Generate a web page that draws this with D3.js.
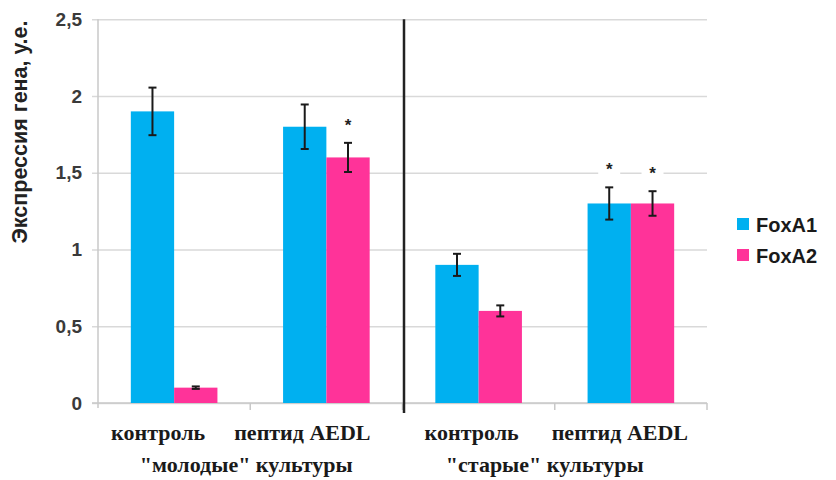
<!DOCTYPE html>
<html>
<head>
<meta charset="utf-8">
<script src="https://cdn.jsdelivr.net/npm/d3@7"></script>
<style>
  html, body { margin: 0; padding: 0; background: #fff; }
  svg { display: block; }
</style>
</head>
<body>
<svg id="chart" width="836" height="480"></svg>
<script>
// Gene expression (arbitrary units) of FoxA1 / FoxA2 in young and old cultures
const categories = ["контроль", "пептид AEDL", "контроль", "пептид AEDL"];
const groupLabels = ['"молодые" культуры', '"старые" культуры'];
const seriesNames = ["FoxA1", "FoxA2"];
const foxA1 = [1.9, 1.8, 0.9, 1.3];
const foxA2 = [0.1, 1.6, 0.6, 1.3];
const foxA1Err = [0.155, 0.145, 0.072, 0.105];
const foxA2Err = [0.008, 0.095, 0.036, 0.08];
const foxA1Signif = [false, false, false, true];
const foxA2Signif = [false, true, false, true];
const yTicks = [0, 0.5, 1, 1.5, 2, 2.5];
const yTickLabels = ["0", "0,5", "1", "1,5", "2", "2,5"];
const yTitle = "Экспрессия гена, у.е.";

// Layout: horizontal nudges for the labels under the axis
const categoryLabelShift = [-16, -24, -7, -11];
const groupLabelShift = [-4, -10];

const colors = { FoxA1: "#00B0F0", FoxA2: "#FF3399" };
const sans = "'Liberation Sans', Arial, sans-serif";
const serif = "'Liberation Serif', 'Times New Roman', serif";

const plot = { left: 98, right: 707, top: 19.3, bottom: 403 };
const svg = d3.select("#chart");

const x0 = d3.scaleBand().domain(d3.range(categories.length))
  .range([plot.left, plot.right]).paddingInner(0).paddingOuter(0);
const x1 = d3.scaleBand().domain(seriesNames)
  .range([0, x0.bandwidth()]).paddingInner(0).paddingOuter(0.758);
const y = d3.scaleLinear().domain([0, 2.5]).range([plot.bottom, plot.top]);

// Horizontal gridlines with short ticks to the left of the axis
const yAxis = d3.axisLeft(y).tickValues(yTicks)
  .tickSize(-(plot.right - plot.left))
  .tickFormat((d, i) => yTickLabels[i]);
const gy = svg.append("g").attr("transform", `translate(${plot.left},0)`).call(yAxis);
gy.select(".domain").remove();
gy.selectAll(".tick line").attr("stroke", "#d9d9d9").attr("stroke-width", 1.5).attr("x1", -6);
gy.selectAll(".tick text")
  .attr("x", -16)
  .attr("font-family", sans).attr("font-size", 19).attr("font-weight", "bold")
  .attr("fill", "#3a3a3a");

// Vertical axis line
svg.append("line")
  .attr("x1", plot.left).attr("x2", plot.left)
  .attr("y1", plot.top).attr("y2", plot.bottom + 5)
  .attr("stroke", "#c8c8c8").attr("stroke-width", 1.5);

// Baseline and category boundary ticks
svg.append("line")
  .attr("x1", plot.left - 6).attr("x2", plot.right)
  .attr("y1", plot.bottom).attr("y2", plot.bottom)
  .attr("stroke", "#c8c8c8").attr("stroke-width", 1.5);
const boundaries = d3.range(categories.length + 1).map(i => i < categories.length ? x0(i) : x0.range()[1]);
svg.selectAll("line.bt").data(boundaries.slice(1)).join("line")
  .attr("class", "bt")
  .attr("x1", d => d).attr("x2", d => d)
  .attr("y1", plot.bottom).attr("y2", plot.bottom + 7)
  .attr("stroke", "#c8c8c8").attr("stroke-width", 1.5);

// Bars
const rows = categories.map((c, i) => ({
  i,
  values: [
    { key: "FoxA1", v: foxA1[i], e: foxA1Err[i], s: foxA1Signif[i] },
    { key: "FoxA2", v: foxA2[i], e: foxA2Err[i], s: foxA2Signif[i] }
  ]
}));

const groups = svg.selectAll("g.cat").data(rows).join("g")
  .attr("class", "cat")
  .attr("transform", d => `translate(${x0(d.i)},0)`);

groups.selectAll("rect.bar").data(d => d.values).join("rect")
  .attr("class", "bar")
  .attr("x", d => x1(d.key))
  .attr("width", x1.bandwidth())
  .attr("y", d => y(d.v))
  .attr("height", d => y(0) - y(d.v))
  .attr("fill", d => colors[d.key]);

// Error bars
const eb = groups.selectAll("g.err").data(d => d.values).join("g").attr("class", "err")
  .attr("stroke", "#1a1a1a").attr("stroke-width", 2);
const cx = d => x1(d.key) + x1.bandwidth() / 2;
eb.append("line").attr("x1", cx).attr("x2", cx)
  .attr("y1", d => y(d.v + d.e)).attr("y2", d => y(d.v - d.e));
eb.append("line").attr("x1", d => cx(d) - 4).attr("x2", d => cx(d) + 4)
  .attr("y1", d => y(d.v + d.e)).attr("y2", d => y(d.v + d.e));
eb.append("line").attr("x1", d => cx(d) - 4).attr("x2", d => cx(d) + 4)
  .attr("y1", d => y(d.v - d.e)).attr("y2", d => y(d.v - d.e));

// Significance marks
const sig = groups.selectAll("g.sig").data(d => d.values.filter(v => v.s)).join("g").attr("class", "sig");
sig.append("rect")
  .attr("x", d => cx(d) - 11).attr("width", 22)
  .attr("y", d => y(d.v + d.e) - 27).attr("height", 14)
  .attr("fill", "#fff");
sig.append("text")
  .attr("x", cx).attr("y", d => y(d.v + d.e) - 12)
  .attr("text-anchor", "middle")
  .attr("font-family", sans).attr("font-size", 17).attr("font-weight", "bold")
  .attr("fill", "#222").text("*");

// Divider between young and old cultures
svg.append("line")
  .attr("x1", x0(2) + 1.5).attr("x2", x0(2) + 1.5)
  .attr("y1", plot.top).attr("y2", plot.bottom + 10)
  .attr("stroke", "#222").attr("stroke-width", 2.5);

// Category labels
svg.selectAll("text.cat").data(categories).join("text")
  .attr("class", "cat")
  .attr("x", (d, i) => x0(i) + x0.bandwidth() / 2 + categoryLabelShift[i])
  .attr("y", 440)
  .attr("text-anchor", "middle")
  .attr("font-family", serif).attr("font-size", 22).attr("font-weight", "bold")
  .attr("fill", "#1a1a1a").text(d => d);

svg.selectAll("text.grp").data(groupLabels).join("text")
  .attr("class", "grp")
  .attr("x", (d, i) => x0(i * 2 + 1) + groupLabelShift[i])
  .attr("y", 472)
  .attr("text-anchor", "middle")
  .attr("font-family", serif).attr("font-size", 22).attr("font-weight", "bold")
  .attr("fill", "#1a1a1a").text(d => d);

// Y axis title
svg.append("text")
  .attr("transform", "translate(27,132) rotate(-90)")
  .attr("text-anchor", "middle")
  .attr("font-family", sans).attr("font-size", 21.5).attr("font-weight", "bold")
  .attr("fill", "#222").text(yTitle);

// Legend
const legend = svg.selectAll("g.leg").data(seriesNames).join("g")
  .attr("class", "leg")
  .attr("transform", (d, i) => `translate(737,${218 + i * 31})`);
legend.append("rect").attr("width", 12).attr("height", 12).attr("fill", d => colors[d]);
legend.append("text").attr("x", 19).attr("y", 14)
  .attr("font-family", sans).attr("font-size", 20).attr("font-weight", "bold")
  .attr("fill", "#1a1a1a").text(d => d);
</script>
</body>
</html>
